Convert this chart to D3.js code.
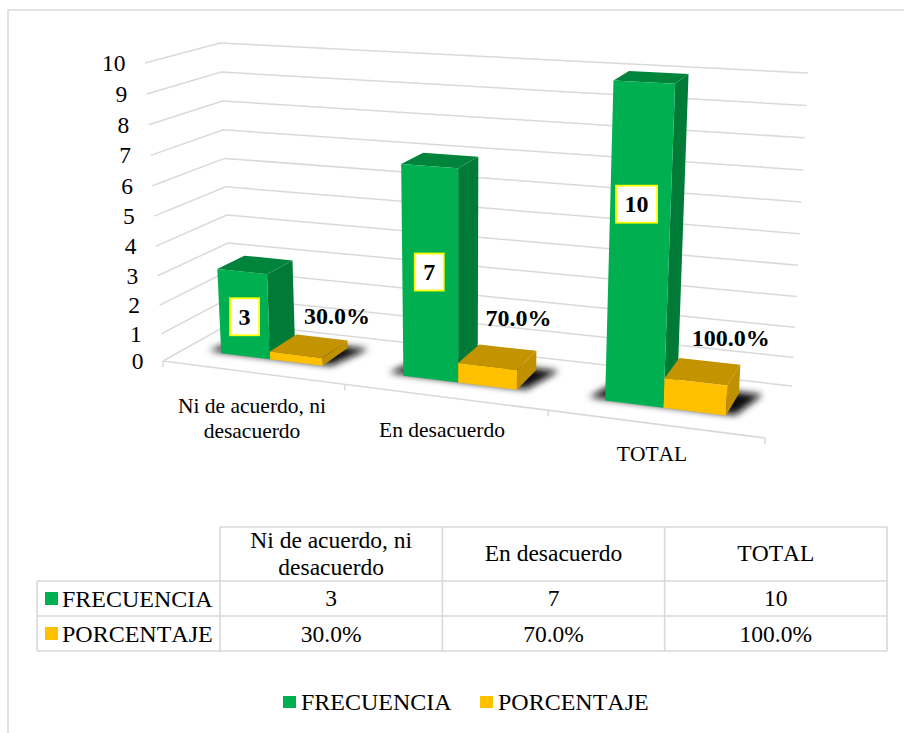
<!DOCTYPE html>
<html>
<head>
<meta charset="utf-8">
<script src="https://cdn.jsdelivr.net/npm/d3@7.9.0/dist/d3.min.js"></script>
<style>
  html, body { margin: 0; padding: 0; background: #fff; }
  text { font-family: "Liberation Serif", serif; fill: #000; font-kerning: none; }
</style>
</head>
<body>
<svg id="chart" width="904" height="733" style="display:block"></svg>
<script>
const categories = ['Ni de acuerdo, ni desacuerdo', 'En desacuerdo', 'TOTAL'];
const categoryLines = [['Ni de acuerdo, ni', 'desacuerdo'], ['En desacuerdo'], ['TOTAL']];
const frecuencia = [3, 7, 10];
const porcentaje = [0.3, 0.7, 1];
const zTicks = d3.range(0, 11);
const seriesNames = ['FRECUENCIA', 'PORCENTAJE'];

const green = { front: '#00B050', top: '#00843C', side: '#007A37' };
const amber = { front: '#FFC000', top: '#C49300', side: '#BF9000' };
const gridColor = '#D9D9D9';

const svg = d3.select('#chart');
const fmtPct = d3.format('.1%');

// outer frame: only left and top are visible in the crop
svg.append('path')
  .attr('d', d3.line()([[8, 733], [8, 10], [904, 10]]))
  .attr('fill', 'none').attr('stroke', gridColor).attr('stroke-width', 1.5);

// fake 3d: four vertical edges of the plot box, blended by category and depth
const zScale = d3.scalePow().exponent(1.04).domain([0, 10]).range([0, 1]);
const catScale = d3.scaleLinear().domain([0, 1, 2, 3]).range([0, 0.302, 0.64, 1]);
const edges = {
  frontLeft:  [[163, 361], [145, 63]],
  backLeft:   [[231, 323], [220, 43]],
  frontRight: [[765, 438], [784, 98]],
  backRight:  [[792, 386], [808, 73]]
};
const mix = (a, b, t) => [a[0] + (b[0] - a[0]) * t, a[1] + (b[1] - a[1]) * t];

function project(c, depth, z) {
  const t = catScale(c), h = zScale(z);
  const at = e => mix(edges[e][0], edges[e][1], h);
  return mix(
    mix(at('frontLeft'), at('frontRight'), t),
    mix(at('backLeft'), at('backRight'), t),
    depth
  );
}

const line = d3.line();
const poly = pts => line(pts) + 'Z';

const defs = svg.append('defs');
defs.append('filter').attr('id', 'blur')
  .attr('x', '-30%').attr('y', '-60%').attr('width', '160%').attr('height', '220%')
  .append('feGaussianBlur').attr('stdDeviation', 3.5);

// grid on left and back walls
const grid = svg.append('g').attr('fill', 'none')
  .attr('stroke', gridColor).attr('stroke-width', 1.5);
grid.selectAll('path.wall').data(zTicks).join('path')
  .attr('class', 'wall')
  .attr('d', z => line([project(0, 0, z), project(0, 1, z), project(3, 1, z)]));

// floor front edge and ticks
grid.append('path').attr('d', line([project(0, 0, 0), project(3, 0, 0)]));
grid.selectAll('path.tick').data(d3.range(0, 4)).join('path')
  .attr('class', 'tick')
  .attr('d', c => {
    const p = project(c, 0, 0);
    return line([p, [p[0], p[1] + 6]]);
  });

// y labels
svg.append('g').selectAll('text').data(zTicks).join('text')
  .attr('text-anchor', 'end')
  .attr('font-size', 23.5)
  .attr('x', z => project(0, 0, z)[0] - 19.5)
  .attr('y', z => project(0, 0, z)[1] + 8)
  .text(z => z);

// category labels under the floor
const catLabelPos = [[252, 413], [442, 437], [652, 461]];
const catLabels = svg.append('g').attr('font-size', 21.5).attr('text-anchor', 'middle');
categoryLines.forEach((lines, i) => {
  lines.forEach((t, j) => {
    catLabels.append('text')
      .attr('x', catLabelPos[i][0])
      .attr('y', catLabelPos[i][1] + j * 25)
      .text(t);
  });
});

// bars
const depthFront = 0.32, depthBack = 0.75, depthBackGreen = 0.72;
const barStart = 0.205, barSplit = 0.48, barEnd = 0.775;

function drawBox(g, c0, c1, back, z, col) {
  const p = (c, d, zz) => project(c, d, zz);
  g.append('path').attr('fill', col.side)
    .attr('d', poly([p(c1, depthFront, 0), p(c1, back, 0), p(c1, back, z), p(c1, depthFront, z)]));
  g.append('path').attr('fill', col.top)
    .attr('d', poly([p(c0, depthFront, z), p(c1, depthFront, z), p(c1, back, z), p(c0, back, z)]));
  g.append('path').attr('fill', col.front)
    .attr('d', poly([p(c0, depthFront, 0), p(c1, depthFront, 0), p(c1, depthFront, z), p(c0, depthFront, z)]));
}

const bars = svg.append('g');
categories.forEach((cat, i) => {
  const g = bars.append('g');
  g.append('path')
    .attr('fill', '#111')
    .attr('filter', 'url(#blur)')
    .attr('d', poly([
      project(i + barStart - 0.08, depthFront + 0.03, 0),
      project(i + barEnd + 0.04, depthFront + 0.03, 0),
      project(i + barEnd + 0.11, depthBack + 0.03, 0),
      project(i + barStart, depthBack + 0.03, 0)
    ]));
  drawBox(g, i + barStart, i + barSplit, depthBackGreen, frecuencia[i], green);
  drawBox(g, i + barSplit, i + barEnd, depthBack, porcentaje[i], amber);
});

// data labels
const freqNudge = [[0.5, 3], [-1.5, 0], [-3.5, -38]];
const pctOffset = [[-10.5, -16], [-18, -25], [-9.5, -19]];
const labels = svg.append('g').attr('font-size', 24).attr('font-weight', 'bold');
categories.forEach((cat, i) => {
  const a = project(i + barStart, depthFront, 0), b = project(i + barSplit, depthFront, frecuencia[i]);
  const cx = (a[0] + b[0]) / 2 + freqNudge[i][0], cy = (a[1] + b[1]) / 2 + freqNudge[i][1];
  const box = labels.append('rect');
  const t = labels.append('text').attr('text-anchor', 'middle')
    .attr('x', cx).attr('y', cy + 8).text(frecuencia[i]);
  const w = t.node().getComputedTextLength() + 17;
  box.attr('x', cx - w / 2).attr('y', cy - 18.5).attr('width', w).attr('height', 37)
    .attr('fill', '#fff').attr('stroke', '#FFFF00').attr('stroke-width', 1.8);

  const q = project(i + barEnd, depthBack, porcentaje[i]);
  labels.append('text').attr('text-anchor', 'middle')
    .attr('x', q[0] + pctOffset[i][0]).attr('y', q[1] + pctOffset[i][1])
    .text(fmtPct(porcentaje[i]));
});

// data table
const colX = d3.scaleBand().domain(categories).range([220, 887]);
const rowEdges = [527, 581, 616, 651];
const tableLeft = 37;
const table = svg.append('g');
const rules = table.append('g').attr('fill', 'none')
  .attr('stroke', gridColor).attr('stroke-width', 1.6);
rules.append('path').attr('d', line([[colX.range()[0], rowEdges[0]], [colX.range()[1], rowEdges[0]]]));
rowEdges.slice(1).forEach(y => {
  rules.append('path').attr('d', line([[tableLeft, y], [colX.range()[1], y]]));
});
rules.append('path').attr('d', line([[tableLeft, rowEdges[1]], [tableLeft, rowEdges[3]]]));
[...categories.map(c => colX(c)), colX.range()[1]].forEach(x => {
  rules.append('path').attr('d', line([[x, rowEdges[0]], [x, rowEdges[3]]]));
});

const cells = table.append('g').attr('font-size', 23.5).attr('text-anchor', 'middle');
categories.forEach((cat, i) => {
  const cx = colX(cat) + colX.bandwidth() / 2;
  const ls = categoryLines[i];
  ls.forEach((t, j) => {
    cells.append('text').attr('x', cx)
      .attr('y', (rowEdges[0] + rowEdges[1]) / 2 + 7 + (j - (ls.length - 1) / 2) * 27)
      .text(t);
  });
  cells.append('text').attr('x', cx).attr('y', (rowEdges[1] + rowEdges[2]) / 2 + 7.5).text(frecuencia[i]);
  cells.append('text').attr('x', cx).attr('y', (rowEdges[2] + rowEdges[3]) / 2 + 8).text(fmtPct(porcentaje[i]));
});

const seriesColor = [green.front, amber.front];
seriesNames.forEach((name, i) => {
  const yMid = (rowEdges[i + 1] + rowEdges[i + 2]) / 2;
  table.append('rect').attr('x', 45).attr('y', yMid - 6.5)
    .attr('width', 13).attr('height', 13).attr('fill', seriesColor[i]);
  table.append('text').attr('x', 62).attr('y', yMid + 8)
    .attr('font-size', 24).text(name);
});

// legend
const legendX = [283, 480];
seriesNames.forEach((name, i) => {
  svg.append('rect').attr('x', legendX[i]).attr('y', 696)
    .attr('width', 13).attr('height', 12).attr('fill', seriesColor[i]);
  svg.append('text').attr('x', legendX[i] + 18).attr('y', 710)
    .attr('font-size', 24).text(name);
});
</script>
</body>
</html>
